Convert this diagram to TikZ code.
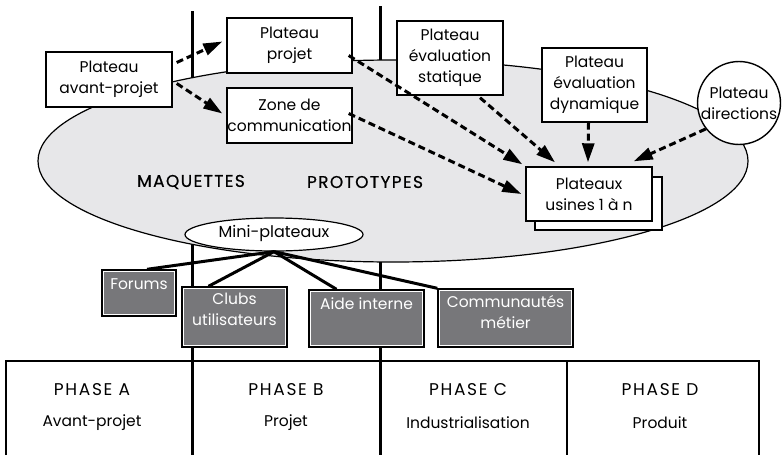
\documentclass[tikz,border=0pt]{standalone}
\usepackage{fontspec}
\setmainfont{Poppins}
\usetikzlibrary{arrows.meta,calc,shapes.geometric}
\definecolor{zonefill}{HTML}{E7E7E9}
\definecolor{boxgray}{HTML}{77777A}
\tikzset{
  every node/.style={font=\fontsize{15.5}{21}\selectfont},
  whitebox/.style={draw=black, line width=1.4pt, fill=white, rectangle, align=center, inner sep=0pt},
  graybox/.style={draw=black, line width=1.4pt, fill=boxgray, rectangle, inner sep=0pt},
  graytext/.style={text=white, align=center, anchor=north, inner sep=0pt},
  flowarrow/.style={line width=3pt, dash pattern=on 7pt off 4pt, -{Triangle[length=19pt,width=12pt]}},
  hubline/.style={line width=3pt},
  phaseline/.style={line width=3pt},
  tableline/.style={line width=1.4pt},
  capword/.style={font=\fontsize{17}{21}\selectfont\addfontfeature{LetterSpace=10}},
  zoneword/.style={font=\fontsize{17}{21}\selectfont\addfontfeature{LetterSpace=8,FakeBold=0.5}},
}
\begin{document}
\begin{tikzpicture}[x=1pt,y=-1pt]
\useasboundingbox (0,0) rectangle (783,455);

% phase separators running through the whole drawing
\draw[phaseline] (192,11) -- (192,455);
\draw[phaseline] (380,6) -- (380,455);

% phase table
\draw[tableline] (6,455) -- (6,361) -- (759,361) -- (759,455);
\draw[line width=2.4pt] (567,361) -- (567,455);
\node[capword] at (92,390) {PHASE A};
\node at (92,423) {Avant-projet};
\node[capword] at (286,390) {PHASE B};
\node at (286,423) {Projet};
\node[capword] at (468,390) {PHASE C};
\node at (468,423) {Industrialisation};
\node[capword] at (660,390) {PHASE D};
\node at (660,423) {Produit};

% large shared zone
\draw[line width=1.2pt, fill=zonefill] (393,161) ellipse [x radius=355, y radius=101];
\node[zoneword] (maq) at (191,182) {MAQUETTES};
\node[zoneword] (proto) at (365,182) {PROTOTYPES};

% mini-plateaux hub and its links
\node[draw=black, line width=1.2pt, fill=white, ellipse, minimum width=178pt, minimum height=33pt, inner sep=0pt] (mini) at (274,234.5) {};
\node[font=\fontsize{16}{21}\selectfont] at (274,233) {Mini-plateaux};

\node[graybox, minimum width=74pt, minimum height=46pt] (forums) at (139,293) {};
\node[graybox, minimum width=105pt, minimum height=60pt] (clubs) at (234.5,317) {};
\node[graybox, minimum width=115pt, minimum height=57pt] (aide) at (366.5,318.5) {};
\node[graybox, minimum width=135pt, minimum height=58pt] (comm) at (505.5,318) {};

\draw[hubline] (mini.south) -- ([xshift=8pt]forums.north);
\draw[hubline] (mini.south) -- ([xshift=-26pt]clubs.north);
\draw[hubline] (mini.south) -- ([xshift=-30pt]aide.north);
\draw[hubline] (mini.south) -- (comm.north west);

\foreach \b in {forums,clubs,aide,comm}
  \draw[white, line width=0.9pt] ([shift={(2.2pt,2.2pt)}]\b.south west) rectangle ([shift={(-2.2pt,-2.2pt)}]\b.north east);

\node[graytext] at ([yshift=-9pt]forums.north) {Forums};
\node[graytext] at ([yshift=-7pt]clubs.north) {Clubs\\utilisateurs};
\node[graytext] at ([yshift=-8pt]aide.north) {Aide interne};
\node[graytext] at ([yshift=-7pt]comm.north) {Communautés\\métier};

% plateaux
\node[whitebox, minimum width=126pt, minimum height=55pt] (avant) at (109,79.5) {Plateau\\avant-projet};
\node[whitebox, minimum width=125pt, minimum height=55pt] (projet) at (289.5,45.5) {Plateau\\projet};
\node[whitebox, minimum width=125pt, minimum height=55pt] (zone) at (289.5,115.5) {Zone de\\communication};
\node[whitebox, minimum width=106pt, minimum height=74pt] (statique) at (450,58) {Plateau\\évaluation\\statique};
\node[whitebox, minimum width=105pt, minimum height=74pt] (dyn) at (594.5,85) {Plateau\\évaluation\\dynamique};
\node[draw=black, line width=1.4pt, fill=white, circle, minimum size=78pt, inner sep=0pt, align=center] (dir) at (739,103) {Plateau\\directions};

% factory plateaux, stacked
\node[whitebox, minimum width=127pt, minimum height=53pt] (usinesback) at (598.5,203.5) {};
\node[whitebox, minimum width=126pt, minimum height=54pt] (usines) at (589,194) {Plateaux\\usines 1 à n};

% information flows
\draw[flowarrow] ([xshift=4pt,yshift=17pt]avant.east) -- ([xshift=-4pt,yshift=4pt]projet.west);
\draw[flowarrow] ([xshift=4pt,yshift=-4pt]avant.east) -- ([xshift=-4pt,yshift=2pt]zone.west);
\draw[flowarrow] ([xshift=-4pt,yshift=-10pt]projet.east) -- ([xshift=-3pt,yshift=2pt]usines.north west);
\draw[flowarrow] ([xshift=-4pt,yshift=2pt]zone.east) -- ([xshift=-4pt]usines.west);
\draw[flowarrow] ([xshift=30pt,yshift=-2pt]statique.south) -- ([xshift=-34pt,yshift=4pt]usines.north);
\draw[flowarrow] ([xshift=-6pt]dyn.south) -- ([xshift=-1pt,yshift=4pt]usines.north);
\draw[flowarrow] (dir.218) -- ([xshift=-19pt,yshift=5pt]usines.north east);
\end{tikzpicture}
\end{document}
